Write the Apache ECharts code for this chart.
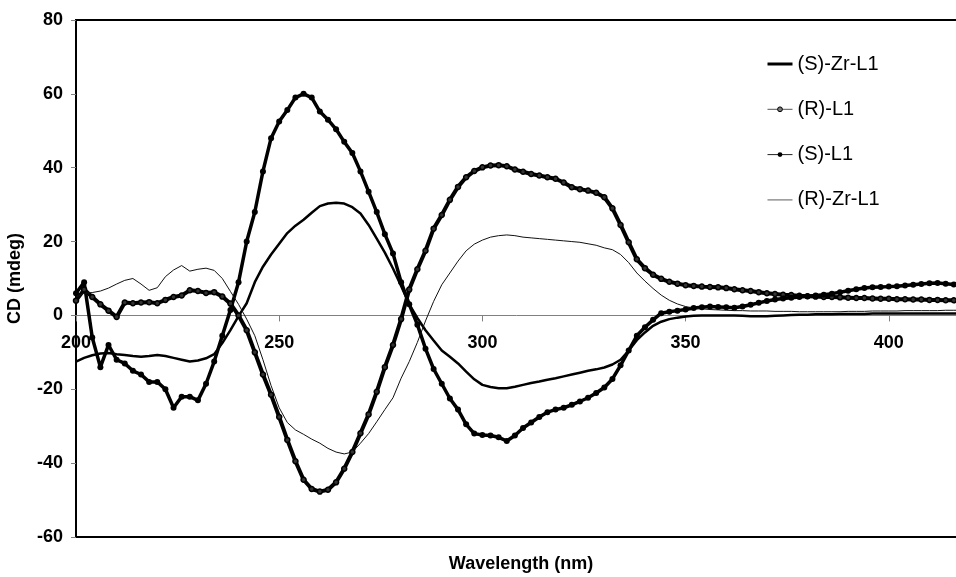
<!DOCTYPE html>
<html><head><meta charset="utf-8">
<script src="https://cdn.jsdelivr.net/npm/echarts@6/dist/echarts.min.js"></script>
<style>html,body{margin:0;padding:0;background:#fff}#c{width:956px;height:577px}</style>
</head><body><div id="c"></div>
<script>
// wavelength grid (nm), 2 nm step
const wavelengths = [];
for (let w = 200; w <= 418; w += 2) wavelengths.push(w);

// CD values (mdeg), one per wavelength
const sZrL1 = [
  -12.5, -11.5, -10.8, -10.3, -10.2, -10.5, -10.7, -11, -11.2, -11,
  -10.7, -11, -11.5, -12, -12.5, -12.2, -11.6, -10.5, -7.5, -4,
  -0.2, 3.3, 9, 13.2, 16.5, 19.4, 22.3, 24.3, 25.9, 27.8,
  29.6, 30.3, 30.5, 30.3, 29.3, 27.6, 24.5, 20.8, 17, 12.7,
  8, 3, -0.7, -4, -6.8, -9.5, -11.2, -13, -15.2, -17.3,
  -18.8, -19.4, -19.7, -19.7, -19.3, -18.8, -18.3, -17.9, -17.4, -17,
  -16.5, -16, -15.5, -15, -14.6, -14.1, -13.3, -12, -9.5, -6.7,
  -4.6, -2.8, -1.7, -1, -0.6, -0.3, -0.1, 0, 0, 0,
  0, 0, -0.1, -0.2, -0.2, -0.2, -0.1, 0, 0.1, 0.2,
  0.2, 0.3, 0.3, 0.3, 0.4, 0.4, 0.4, 0.4, 0.5, 0.5,
  0.5, 0.5, 0.5, 0.5, 0.5, 0.5, 0.5, 0.5, 0.5, 0.5
];
const rL1 = [
  4, 7, 5, 3, 1.3, -0.4, 3.5, 3.3, 3.5, 3.6,
  3.3, 4.2, 5, 5.4, 6.8, 6.6, 6.1, 6.3, 5.1, 3.2,
  0, -4, -10, -16, -21.5, -27.5, -33.7, -39.5, -44.5, -47,
  -47.7, -47.2, -45.2, -41.5, -37, -31.9, -26.8, -20.7, -14, -8,
  -1, 7, 12.5, 17.5, 23.5, 27.2, 31.3, 34.8, 37.4, 39.1,
  40.1, 40.6, 40.7, 40.4, 39.5, 38.9, 38.3, 37.9, 37.4, 37,
  36, 34.7, 34.2, 33.8, 33.2, 32, 29, 24.5, 19.8, 15.2,
  12.8, 11, 9.9, 9.1, 8.6, 8.2, 8, 7.8, 7.7, 7.6,
  7.4, 7.1, 6.8, 6.6, 6.3, 6, 5.8, 5.6, 5.5, 5.3,
  5.2, 5.1, 5, 5, 4.9, 4.8, 4.7, 4.7, 4.6, 4.5,
  4.5, 4.4, 4.4, 4.3, 4.3, 4.2, 4.2, 4.1, 4.1, 4
];
const sL1 = [
  6, 9, -6, -14, -8, -12, -13, -15, -16, -18,
  -18, -20, -25, -22, -22, -23, -18.5, -12.5, -5.5, 1.5,
  9, 20, 28, 39, 48, 52.5, 55.6, 59, 60, 59,
  55.2, 53, 50.4, 47, 44, 39, 33.5, 28, 22, 16.8,
  9, 3, -2.5, -9, -14.5, -18.5, -22.5, -25.5, -29.5, -32,
  -32.4, -32.5, -33, -34, -32.5, -30.5, -29, -27.5, -26.2, -25.5,
  -25, -24.2, -23.3, -22.3, -21, -19.5, -17.2, -13.5, -9.5, -5.5,
  -3.2, -1.2, 0.6, 1, 1.3, 1.6, 2, 2.2, 2.4, 2.3,
  2.2, 2.1, 2.4, 2.9, 3.4, 3.9, 4.3, 4.6, 4.8, 5,
  5.2, 5.4, 5.6, 5.9, 6.3, 6.7, 7.1, 7.4, 7.6, 7.7,
  7.8, 7.9, 8.1, 8.3, 8.5, 8.7, 8.8, 8.6, 8.4, 8.3
];
const rZrL1 = [
  5, 6, 6.2, 6.6, 7.4, 8.5, 9.5, 10, 8.5, 6.8,
  7.5, 10.5, 12.3, 13.5, 12, 12.5, 12.8, 12.2, 10, 6.5,
  3, -1, -5.5, -12, -19, -25, -29, -31, -32.2, -33.5,
  -34.6, -36, -37, -37.5, -37, -34.6, -32, -28.8, -25.5, -22.3,
  -17, -12.5, -7.3, -1.5, 3.8, 8.3, 11.5, 14.7, 17.5, 19.3,
  20.4, 21.2, 21.6, 21.8, 21.6, 21.2, 21, 20.8, 20.6, 20.4,
  20.2, 20, 19.8, 19.4, 19, 18.3, 17.8, 16.5, 14.3, 11.5,
  9.3, 7.3, 5.5, 4.1, 3.1, 2.4, 2, 1.8, 1.6, 1.5,
  1.4, 1.3, 1.3, 1.2, 1.2, 1.2, 1.1, 1.1, 1.1, 1,
  1, 1, 1, 1, 1, 1.1, 1.1, 1.1, 1.2, 1.2,
  1.2, 1.2, 1.3, 1.3, 1.3, 1.3, 1.3, 1.4, 1.4, 1.4
];

const seriesNames = ['(S)-Zr-L1', '(R)-L1', '(S)-L1', '(R)-Zr-L1'];
const xAxisTitle = 'Wavelength (nm)';
const yAxisTitle = 'CD (mdeg)';
const xMin = 200, xMax = 419, xStep = 50;
const yMin = -60, yMax = 80, yStep = 20;

const FONT = "'Liberation Sans', Arial, sans-serif";
function pairs(vals) { return wavelengths.map((w, i) => [w, vals[i]]); }

const chart = echarts.init(document.getElementById('c'), null, {renderer: 'canvas'});
chart.setOption({
  animation: false,
  backgroundColor: '#fff',
  grid: {left: 76, right: -10, top: 20, bottom: 40, show: true, borderColor: '#000', borderWidth: 2,
         containLabel: false, outerBoundsMode: 'none'},
  legend: {
    orient: 'vertical', left: 761, top: 49, itemWidth: 25, itemHeight: 6, itemGap: 25.3,
    textStyle: {fontSize: 20, fontFamily: FONT, color: '#000'},
    data: [
      {name: seriesNames[0], lineStyle: {width: 3, color: '#000'}, itemStyle: {opacity: 0}},
      {name: seriesNames[1], lineStyle: {width: 1, color: '#555'}, itemStyle: {color: '#777', borderColor: '#000', borderWidth: 1}},
      {name: seriesNames[2], lineStyle: {width: 1, color: '#222'}, itemStyle: {color: '#000', borderWidth: 0}},
      {name: seriesNames[3], lineStyle: {width: 1.2, color: '#777'}, itemStyle: {opacity: 0}}
    ]
  },
  xAxis: {
    type: 'value', min: xMin, max: xMax, interval: xStep,
    axisLine: {onZero: true, lineStyle: {color: '#808080', width: 1}},
    axisTick: {length: 6, lineStyle: {color: '#808080'}},
    axisLabel: {margin: -203, fontSize: 18, fontWeight: 'bold', color: '#000', fontFamily: FONT, showMaxLabel: false},
    splitLine: {show: false},
    name: xAxisTitle, nameLocation: 'middle', nameGap: 18, nameMoveOverlap: false,
    nameTextStyle: {fontSize: 18, fontWeight: 'bold', color: '#000', fontFamily: FONT}
  },
  yAxis: {
    type: 'value', min: yMin, max: yMax, interval: yStep,
    axisLine: {show: true, onZero: false, lineStyle: {color: '#000', width: 2}},
    axisTick: {show: true, length: 5, lineStyle: {color: '#808080'}},
    axisLabel: {margin: 13, fontSize: 18, fontWeight: 'bold', color: '#000', fontFamily: FONT},
    splitLine: {show: false},
    name: yAxisTitle, nameLocation: 'middle', nameGap: 52, nameRotate: 90, nameMoveOverlap: false,
    nameTextStyle: {fontSize: 18, fontWeight: 'bold', color: '#000', fontFamily: FONT}
  },
  series: [
    {name: seriesNames[0], type: 'line', data: pairs(sZrL1), symbol: 'none', silent: true,
     lineStyle: {color: '#000', width: 2.5}, itemStyle: {color: '#000'}},
    {name: seriesNames[1], type: 'line', data: pairs(rL1), symbol: 'circle', symbolSize: 5, showSymbol: true, silent: true,
     lineStyle: {color: '#000', width: 4}, itemStyle: {color: '#333', borderColor: '#000', borderWidth: 1.5}},
    {name: seriesNames[2], type: 'line', data: pairs(sL1), symbol: 'circle', symbolSize: 6, showSymbol: true, silent: true,
     lineStyle: {color: '#000', width: 3.5}, itemStyle: {color: '#000'}},
    {name: seriesNames[3], type: 'line', data: pairs(rZrL1), symbol: 'none', silent: true,
     lineStyle: {color: '#111', width: 1}, itemStyle: {color: '#777'}}
  ]
});
</script>
</body></html>
